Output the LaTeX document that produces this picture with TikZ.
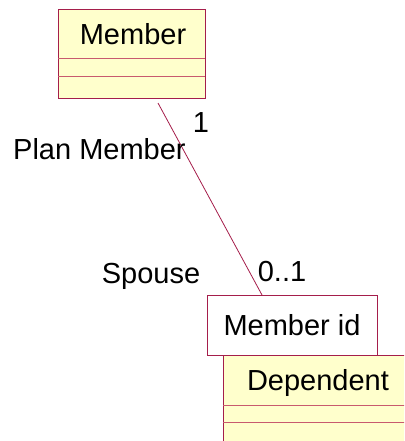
\documentclass[tikz,border=0pt]{standalone}
\usepackage{fontspec}
\setmainfont{Liberation Sans}
\definecolor{rborder}{RGB}{165,30,75}
\definecolor{rdiv}{RGB}{200,90,110}
\definecolor{rfill}{RGB}{255,255,204}
\tikzset{
  lbl/.style={font=\fontsize{29}{32}\selectfont, inner sep=0pt, anchor=base},
  classbox/.style={draw=rborder, fill=rfill, line width=1pt},
  idbox/.style={draw=rborder, fill=white, line width=1pt},
  divline/.style={draw=rdiv, line width=1pt},
  assoc/.style={draw=rborder, line width=0.8pt}
}
\begin{document}
\begin{tikzpicture}[x=1pt,y=-1pt]
\useasboundingbox (0,0) rectangle (404,441);
\clip (0,0) rectangle (404,441);
\fill[white] (0,0) rectangle (404,441);
% Member class
\path[classbox] (58,10) rectangle (205,99);
\draw[divline] (58,59) -- (205,59);
\draw[divline] (58,77) -- (205,77);
\node[lbl] (member) at (133,45) {Member};
% Dependent class
\path[classbox] (223,355) rectangle (420,460);
\draw[divline] (223,405) -- (420,405);
\draw[divline] (223,422) -- (420,422);
\node[lbl] (dependent) at (318,390) {Dependent};
% Qualifier box
\path[idbox] (207,295) rectangle (377,355);
\node[lbl] (memberid) at (292,335) {Member id};
% association
\coordinate (aend) at (158,103);
\coordinate (bend) at (262,295);
\draw[assoc] (aend) -- (bend);
\node[lbl] (one) at (201,132) {1};
\node[lbl, anchor=base west] (plan) at (13,159) {Plan Member};
\node[lbl] (spouse) at (151,283) {Spouse};
\node[lbl] (zeroone) at (282,281) {0..1};
\end{tikzpicture}
\end{document}
